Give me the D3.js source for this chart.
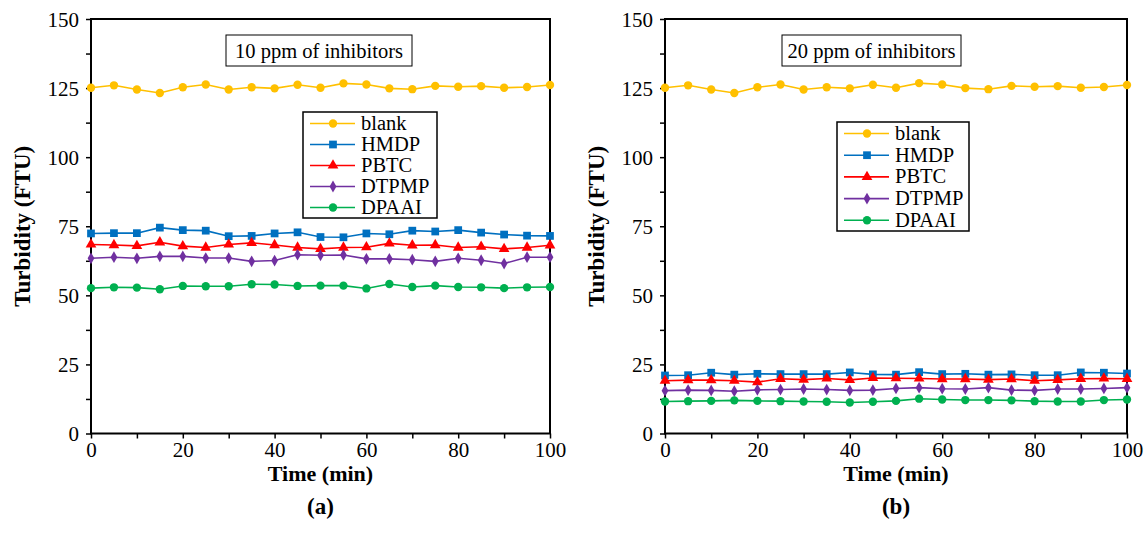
<!DOCTYPE html>
<html>
<head>
<meta charset="utf-8">
<script src="https://cdn.jsdelivr.net/npm/d3@7"></script>
<style>
  body { margin: 0; background: #fff; }
  svg text { font-family: "Times New Roman", "Liberation Serif", "DejaVu Serif", serif; }
</style>
</head>
<body>
<div id="chart"></div>
<script>
// time axis (min)
var times = [0, 5, 10, 15, 20, 25, 30, 35, 40, 45, 50, 55, 60, 65, 70, 75, 80, 85, 90, 95, 100];
var seriesNames = ["blank", "HMDP", "PBTC", "DTPMP", "DPAAI"];
var yTicks = [0, 25, 50, 75, 100, 125, 150];
var xTicks = [0, 20, 40, 60, 80, 100];

// (a) 10 ppm
var blankA = [125.1, 126.0, 124.5, 123.2, 125.3, 126.3, 124.5, 125.3, 124.9, 126.2, 125.1, 126.7, 126.3, 124.9, 124.6, 125.8, 125.5, 125.7, 125.1, 125.4, 126.1];
var hmdpA = [72.4, 72.5, 72.5, 74.5, 73.6, 73.4, 71.4, 71.5, 72.4, 72.8, 71.1, 71.0, 72.4, 72.1, 73.4, 73.1, 73.6, 72.7, 72.0, 71.6, 71.5];
var pbtcA = [68.4, 68.2, 67.9, 69.2, 67.8, 67.3, 68.4, 69.0, 68.2, 67.3, 66.8, 67.3, 67.4, 68.8, 68.1, 68.2, 67.3, 67.6, 66.8, 67.3, 68.1];
var dtpmpA = [63.4, 63.8, 63.4, 64.1, 64.1, 63.5, 63.5, 62.3, 62.6, 64.7, 64.5, 64.6, 63.2, 63.2, 62.9, 62.3, 63.4, 62.7, 61.5, 63.8, 63.8];
var dpaaiA = [52.6, 52.9, 52.8, 52.2, 53.4, 53.3, 53.3, 54.0, 53.9, 53.4, 53.5, 53.5, 52.5, 54.1, 53.0, 53.5, 53.0, 52.9, 52.6, 52.9, 53.0];

// (b) 20 ppm
var blankB = [125.1, 126.0, 124.5, 123.2, 125.3, 126.3, 124.5, 125.3, 124.9, 126.2, 125.1, 126.8, 126.3, 125.0, 124.6, 125.8, 125.5, 125.7, 125.1, 125.4, 126.1];
var hmdpB = [21.0, 21.1, 22.0, 21.3, 21.6, 21.5, 21.5, 21.5, 22.1, 21.4, 21.3, 22.2, 21.5, 21.6, 21.3, 21.4, 21.1, 21.1, 22.1, 22.0, 21.7];
var pbtcB = [19.1, 19.3, 19.3, 19.1, 18.6, 19.8, 19.5, 19.9, 19.4, 20.1, 20.0, 19.9, 19.7, 19.7, 19.5, 19.7, 19.1, 19.4, 19.8, 19.9, 19.8];
var dtpmpB = [15.5, 15.7, 15.6, 15.3, 15.8, 15.9, 16.1, 15.9, 15.6, 15.7, 16.3, 16.6, 16.2, 16.1, 16.6, 15.7, 15.6, 16.1, 16.1, 16.3, 16.6];
var dpaaiB = [11.6, 11.7, 11.8, 12.0, 11.8, 11.7, 11.6, 11.5, 11.2, 11.5, 11.8, 12.6, 12.3, 12.1, 12.1, 12.0, 11.7, 11.6, 11.6, 12.1, 12.3];

var colors = ["#FFC000", "#0070C0", "#FF0000", "#7030A0", "#00B050"];
var symbols = [d3.symbolCircle, d3.symbolSquare, d3.symbolTriangle, d3.symbolDiamond, d3.symbolCircle];
var symSizes = [55, 60, 50, 40, 55];
var serif = "'Times New Roman', 'Liberation Serif', serif";

var W = 1146, H = 538;
var svg = d3.select("#chart").append("svg")
    .attr("width", W)
    .attr("height", H)
    .attr("font-family", serif);

var plotTop = 19, plotBottom = 433.5;

function drawPanel(opt) {
    var x = d3.scaleLinear().domain([0, 100]).range([opt.left, opt.right]);
    var y = d3.scaleLinear().domain([0, 150]).range([plotBottom, plotTop]);
    var g = svg.append("g");

    // frame
    g.append("rect")
        .attr("x", opt.left).attr("y", plotTop)
        .attr("width", opt.right - opt.left).attr("height", plotBottom - plotTop)
        .attr("fill", "none").attr("stroke", "#000").attr("stroke-width", 2);

    // y axis, minor ticks every 12.5
    var yAxis = d3.axisLeft(y).tickValues(d3.range(0, 150.1, 12.5)).tickSize(5)
        .tickFormat(function(d) { return yTicks.indexOf(d) >= 0 ? d : ""; });
    var ya = g.append("g").attr("transform", "translate(" + opt.left + ",0)").call(yAxis);
    var xAxis = d3.axisBottom(x).tickValues(d3.range(0, 100.1, 10)).tickSize(5)
        .tickFormat(function(d) { return xTicks.indexOf(d) >= 0 ? d : ""; });
    var xa = g.append("g").attr("transform", "translate(0," + plotBottom + ")").call(xAxis);
    [ya, xa].forEach(function(a) {
        a.attr("font-family", serif).attr("font-size", 21);
        a.select(".domain").remove();
        a.selectAll("line").attr("stroke", "#000").attr("stroke-width", 1.5);
        a.selectAll("text").attr("fill", "#000");
    });
    ya.selectAll("text").attr("x", -12).attr("dy", "0.34em");
    xa.selectAll("text").attr("y", 8).attr("dy", "0.76em");

    // titles
    var cx = (opt.left + opt.right) / 2;
    g.append("text")
        .attr("transform", "translate(" + (opt.left - 61) + "," + ((plotTop + plotBottom) / 2) + ") rotate(-90)")
        .attr("text-anchor", "middle")
        .attr("font-size", 23).attr("font-weight", "bold")
        .text("Turbidity (FTU)");
    g.append("text").attr("x", cx).attr("y", 481)
        .attr("text-anchor", "middle")
        .attr("font-size", 22).attr("font-weight", "bold")
        .text("Time (min)");
    g.append("text").attr("x", cx).attr("y", 514)
        .attr("text-anchor", "middle")
        .attr("font-size", 23).attr("font-weight", "bold")
        .text(opt.tag);

    // series
    var line = d3.line().x(function(d, i) { return x(times[i]); }).y(function(d) { return y(d); });
    opt.series.forEach(function(vals, k) {
        g.append("path").datum(vals)
            .attr("d", line)
            .attr("fill", "none")
            .attr("stroke", colors[k])
            .attr("stroke-width", 1.6);
        g.selectAll(null).data(vals).enter().append("path")
            .attr("transform", function(d, i) { return "translate(" + x(times[i]) + "," + y(d) + ")"; })
            .attr("d", d3.symbol().type(symbols[k]).size(symSizes[k]))
            .attr("fill", colors[k]);
    });

    // condition label box
    var lb = opt.labelBox;
    g.append("rect").attr("x", lb[0]).attr("y", lb[1]).attr("width", lb[2]).attr("height", lb[3])
        .attr("fill", "#fff").attr("stroke", "#000").attr("stroke-width", 1);
    g.append("text").attr("x", lb[0] + lb[2] / 2).attr("y", lb[1] + lb[3] / 2 + 7)
        .attr("text-anchor", "middle").attr("font-size", 20.5)
        .text(opt.label);

    // legend
    var lg = opt.legend;
    g.append("rect").attr("x", lg.x).attr("y", lg.y).attr("width", lg.w).attr("height", lg.h)
        .attr("fill", "#fff").attr("stroke", "#000").attr("stroke-width", 1.5);
    seriesNames.forEach(function(name, k) {
        var ry = lg.y + 11.5 + k * lg.step;
        g.append("line").attr("x1", lg.x + 7).attr("x2", lg.x + 52).attr("y1", ry).attr("y2", ry)
            .attr("stroke", colors[k]).attr("stroke-width", 1.6);
        g.append("path").attr("transform", "translate(" + (lg.x + 30) + "," + ry + ")")
            .attr("d", d3.symbol().type(symbols[k]).size(symSizes[k]))
            .attr("fill", colors[k]);
        g.append("text").attr("x", lg.x + 58).attr("y", ry + 6.5)
            .attr("font-size", 20.5).text(name);
    });
}

drawPanel({
    left: 91, right: 550, tag: "(a)",
    label: "10 ppm of inhibitors", labelBox: [226, 35, 186, 31],
    legend: { x: 303, y: 112, w: 134, h: 106, step: 21 },
    series: [blankA, hmdpA, pbtcA, dtpmpA, dpaaiA]
});
drawPanel({
    left: 665, right: 1127, tag: "(b)",
    label: "20 ppm of inhibitors", labelBox: [782, 35, 179, 31],
    legend: { x: 837, y: 122, w: 132, h: 109, step: 21.7 },
    series: [blankB, hmdpB, pbtcB, dtpmpB, dpaaiB]
});
</script>
</body>
</html>
